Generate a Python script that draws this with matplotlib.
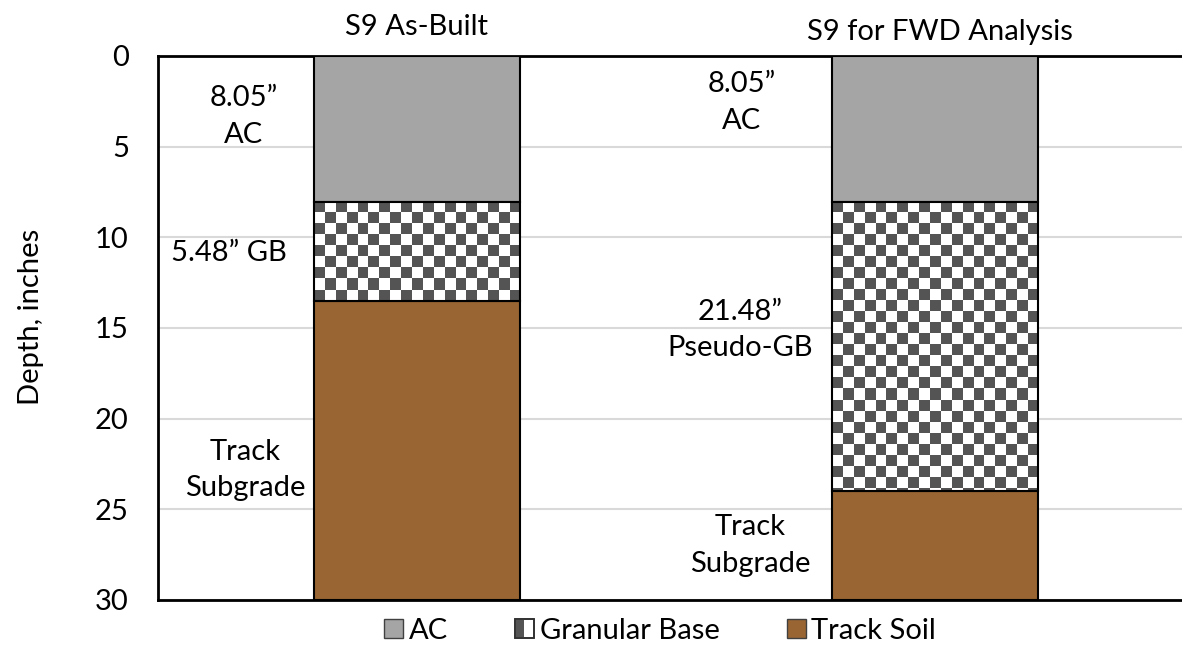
import numpy as np
import matplotlib
matplotlib.use('Agg')
import matplotlib.pyplot as plt
from matplotlib.patches import Rectangle
from matplotlib.legend_handler import HandlerBase

# ---- data ----
categories = ['S9 As-Built', 'S9 for FWD Analysis']
ac_thk = [8.05, 8.05]
gb_thk = [5.48, 15.95]
soil_thk = [16.47, 6.00]
series_names = ['AC', 'Granular Base', 'Track Soil']
y_ticks = [0, 5, 10, 15, 20, 25, 30]
layer_labels_left = ['8.05\u201d\nAC', '5.48\u201d GB', 'Track\nSubgrade']
layer_labels_right = ['8.05\u201d\nAC', '21.48\u201d\nPseudo-GB', 'Track\nSubgrade']

# ---- style ----
FONT = 'Lato'
FS = 21
AC_COLOR = '#A5A5A5'
SOIL_COLOR = '#996633'
CHECK_DARK = '#545454'
plt.rcParams['font.family'] = [FONT, 'DejaVu Sans']

fig = plt.figure(figsize=(11.82, 6.45), dpi=100)
ax = fig.add_axes([158/1182, 45/645, 1 - 158/1182, (600-56)/645])

x = np.arange(len(categories))
width = 0.398
ac_bot = np.zeros(len(x))
gb_bot = np.array(ac_thk)
soil_bot = gb_bot + np.array(gb_thk)

ax.bar(x, ac_thk, width, bottom=ac_bot, color=AC_COLOR, edgecolor='black', linewidth=1.5, zorder=3)
ax.bar(x, soil_thk, width, bottom=soil_bot, color=SOIL_COLOR, edgecolor='black', linewidth=1.5, zorder=3)
gb_bars = ax.bar(x, gb_thk, width, bottom=gb_bot, facecolor='white', edgecolor='none', zorder=2)
ax.bar(x, gb_thk, width, bottom=gb_bot, facecolor='none', edgecolor='black', linewidth=1.5, zorder=5)

# checkerboard texture in granular base
cmap = matplotlib.colors.ListedColormap(['white', CHECK_DARK])
for rect in gb_bars.patches:
    x0, y0 = rect.get_x(), rect.get_y()
    w, h = rect.get_width(), rect.get_height()
    cx = w / 19.0
    cy = 11 / (544 / 30.0)
    nx = int(np.ceil(w / cx)) + 1
    ny = int(np.ceil(h / cy)) + 1
    jj, ii = np.meshgrid(np.arange(nx), np.arange(ny))
    arr = ((ii + jj + 1) % 2).astype(float)
    im = ax.imshow(arr, cmap=cmap, vmin=0, vmax=1, interpolation='nearest',
                   extent=(x0, x0 + nx * cx, y0 + ny * cy, y0), origin='upper',
                   aspect='auto', zorder=4)
    im.set_clip_path(rect)

ax.set_xlim(-0.5, 1.477)
ax.set_ylim(30, 0)
ax.set_yticks(y_ticks)
ax.set_xticks([])
ax.tick_params(axis='y', length=0, pad=21, labelsize=FS)
ax.grid(axis='y', color='#D9D9D9', linewidth=1.5)
ax.set_axisbelow(True)
for s in ['left', 'top', 'bottom']:
    ax.spines[s].set_linewidth(2)
    ax.spines[s].set_color('black')
ax.spines['right'].set_visible(False)

ax.set_ylabel('Depth, inches', fontsize=FS)
ax.yaxis.set_label_coords(-0.111, 0.52)

# column titles
ax.text(x[0], -1.6, categories[0], ha='center', va='center', fontsize=FS, clip_on=False)
ax.text(x[1] + 0.01, -1.32, categories[1], ha='center', va='center', fontsize=FS, clip_on=False)

# layer labels
LS = 1.5
left_pos = [(-0.334, 3.35), (-0.364, 10.87), (-0.332, 22.83)]
right_pos = [(0.627, 2.56), (0.6236, 15.1), (0.643, 27.0)]
for t, (px, py) in zip(layer_labels_left, left_pos):
    ax.text(px, py, t, ha='center', va='center', fontsize=FS, linespacing=LS)
for t, (px, py) in zip(layer_labels_right, right_pos):
    ax.text(px, py, t, ha='center', va='center', fontsize=FS, linespacing=LS)

# legend
class CheckerHandler(HandlerBase):
    def create_artists(self, legend, orig_handle, xdescent, ydescent, width, height, fontsize, trans):
        s = height
        x0 = -xdescent + (width - s) / 2
        y0 = -ydescent
        arts = [Rectangle((x0, y0), s, s, facecolor='white', edgecolor='#303030', linewidth=1.2, transform=trans)]
        h = s / 2
        arts.append(Rectangle((x0, y0), h, s, facecolor=CHECK_DARK, edgecolor='none', transform=trans))
        arts.append(Rectangle((x0, y0), s, s, facecolor='none', edgecolor='#303030', linewidth=1.2, transform=trans))
        return arts

h_ac = Rectangle((0, 0), 1, 1, facecolor=AC_COLOR, edgecolor='#404040', linewidth=1)
h_gb = Rectangle((0, 0), 1, 1, facecolor='white', edgecolor=CHECK_DARK)
h_soil = Rectangle((0, 0), 1, 1, facecolor=SOIL_COLOR, edgecolor='#404040', linewidth=1)
fig.legend([h_ac, h_gb, h_soil], series_names, loc='center', bbox_to_anchor=(660/1182, 1 - 631/645),
           ncol=3, frameon=False, fontsize=FS, handlelength=0.65, handleheight=0.65,
           handletextpad=0.2, columnspacing=2.3, handler_map={h_gb: CheckerHandler()})

fig.savefig('out.png', dpi=100)
